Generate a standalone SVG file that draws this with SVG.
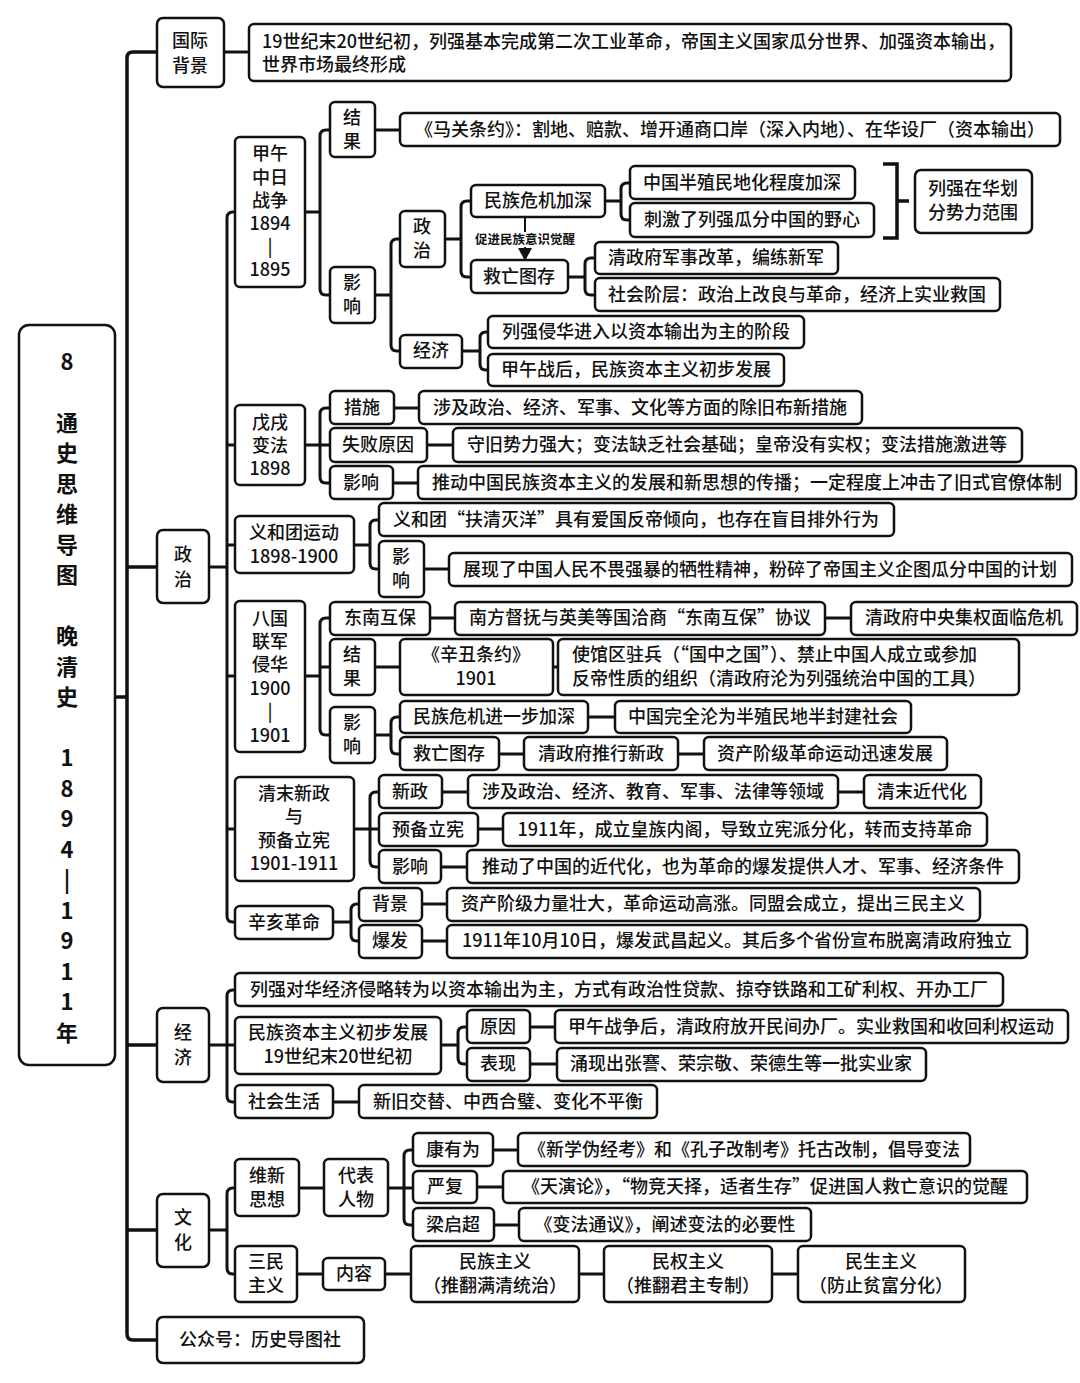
<svg xmlns="http://www.w3.org/2000/svg" width="1080" height="1383" viewBox="0 0 1080 1383">
<style>
.b{fill:#fff;stroke:#111;stroke-width:2.5}
.t{font-family:"Noto Sans CJK SC","Noto Sans",sans-serif;font-size:18px;font-weight:500;fill:#111;text-anchor:middle}
.l{text-anchor:start}
.r{font-family:"Noto Sans CJK SC","Noto Sans",sans-serif;font-size:22px;font-weight:bold;fill:#111;text-anchor:middle}
.c{fill:none;stroke:#111;stroke-width:3;stroke-linejoin:round}
</style>
<rect width="1080" height="1383" fill="#fff"/>
<g id="connectors" class="c">
<path d="M157 52H133Q127 52 127 58V1334Q127 1340 133 1340H157M127 567H157M127 1045H157M127 1230H157M115 697H127" stroke-width="3.5"/>
<path d="M224 52H249"/>
<path d="M235 212H233Q227 212 227 218V916Q227 922 233 922H235M227 445H235M227 545H235M227 676H235M227 829H235M209 567H227"/>
<path d="M330 130H326Q320 130 320 136V289Q320 295 326 295H330M305 212H320M375 130H400"/>
<path d="M400 239H397Q391 239 391 245V345Q391 351 397 351H400M375 295H391"/>
<path d="M471 201H467Q461 201 461 207V271Q461 277 467 277H471M445 239H461"/>
<path d="M630 183H627Q621 183 621 189V214Q621 220 627 220H630M605 201H621"/>
<path d="M883 164H897V238H883M897 201H909" stroke-width="3.5" stroke-linejoin="miter"/>
<path d="M595 258H591Q585 258 585 264V289Q585 295 591 295H595M568 277H585"/>
<path d="M488 332H486Q480 332 480 338V364Q480 370 486 370H488M462 351H480"/>
<path d="M330 408H326Q320 408 320 414V477Q320 483 326 483H330M305 445H330M394 408H419M427 445H453M393 483H418"/>
<path d="M379 520H376Q370 520 370 526V563Q370 569 376 569H379M354 545H370M424 569H449"/>
<path d="M330 618H326Q320 618 320 624V729Q320 735 326 735H330M305 676H320M320 667H330M430 618H455M825 618H851M375 667H400M553 667H558"/>
<path d="M400 717H397Q391 717 391 723V748Q391 754 397 754H400M375 735H391M588 717H615M499 754H524M678 754H704"/>
<path d="M379 792H376Q370 792 370 798V861Q370 867 376 867H379M354 829H379M442 792H468M838 792H864M478 829H503M441 867H467"/>
<path d="M359 904H357Q351 904 351 910V935Q351 941 357 941H359M333 922H351M422 904H447M422 941H447"/>
<path d="M235 990H233Q227 990 227 996V1096Q227 1102 233 1102H235M209 1045H235"/>
<path d="M467 1027H464Q458 1027 458 1033V1058Q458 1064 464 1064H467M441 1045H458M530 1027H555M530 1064H557M333 1102H359"/>
<path d="M235 1188H233Q227 1188 227 1194V1268Q227 1274 233 1274H235M209 1230H227M299 1188H324"/>
<path d="M413 1150H410Q404 1150 404 1156V1219Q404 1225 410 1225H413M388 1188H413M493 1150H518M477 1187H503M494 1225H519"/>
<path d="M297 1274H323M385 1274H411M579 1274H604M772 1274H798"/>
<path d="M525 217V250" stroke-width="2"/>
<polygon points="518,248 532,248 525,261" fill="#111" stroke="none"/>
<rect x="470" y="232" width="110" height="15" fill="#fff" stroke="none"/>
<text x="525" y="244" font-family="Noto Sans CJK SC,sans-serif" font-size="12.5" font-weight="bold" fill="#111" stroke="none" text-anchor="middle">促进民族意识觉醒</text>
</g>
<g id="root"><rect class="b" x="19" y="325" width="96" height="740" rx="10" stroke-width="3.5"/>
<text class="r"><tspan x="67" y="370">8</tspan><tspan x="67" y="431">通</tspan><tspan x="67" y="461">史</tspan><tspan x="67" y="492">思</tspan><tspan x="67" y="522">维</tspan><tspan x="67" y="553">导</tspan><tspan x="67" y="583">图</tspan><tspan x="67" y="644">晚</tspan><tspan x="67" y="675">清</tspan><tspan x="67" y="705">史</tspan><tspan x="67" y="766">1</tspan><tspan x="67" y="797">8</tspan><tspan x="67" y="827">9</tspan><tspan x="67" y="858">4</tspan><tspan x="67" y="888">|</tspan><tspan x="67" y="919">1</tspan><tspan x="67" y="949">9</tspan><tspan x="67" y="980">1</tspan><tspan x="67" y="1010">1</tspan><tspan x="67" y="1041">年</tspan></text></g>
<g id="n-gjbj"><rect class="b" x="157" y="18" width="67" height="69" rx="6"/><text class="t"><tspan x="190" y="47">国际</tspan><tspan x="190" y="72">背景</tspan></text></g>
<g id="n-intro"><rect class="b" x="249" y="24" width="762" height="57" rx="5"/><text class="t l"><tspan x="262" y="48">19世纪末20世纪初，列强基本完成第二次工业革命，帝国主义国家瓜分世界、加强资本输出，</tspan><tspan x="262" y="71">世界市场最终形成</tspan></text></g>
<g id="n-zz"><rect class="b" x="157" y="530" width="52" height="73" rx="6"/><text class="t"><tspan x="183" y="561">政</tspan><tspan x="183" y="586">治</tspan></text></g>
<g id="n-jj"><rect class="b" x="157" y="1008" width="52" height="74" rx="6"/><text class="t"><tspan x="183" y="1039">经</tspan><tspan x="183" y="1064">济</tspan></text></g>
<g id="n-wh"><rect class="b" x="157" y="1194" width="52" height="73" rx="6"/><text class="t"><tspan x="183" y="1224">文</tspan><tspan x="183" y="1249">化</tspan></text></g>
<g id="n-gzh"><rect class="b" x="157" y="1317" width="207" height="46" rx="6"/><text class="t" x="260" y="1346">公众号：历史导图社</text></g>
<g id="n-jw"><rect class="b" x="235" y="137" width="70" height="150" rx="5"/><text class="t"><tspan x="270" y="160">甲午</tspan><tspan x="270" y="184">中日</tspan><tspan x="270" y="207">战争</tspan><tspan x="270" y="230">1894</tspan><tspan x="270" y="253">|</tspan><tspan x="270" y="276">1895</tspan></text></g>
<g id="n-jw-jg"><rect class="b" x="330" y="102" width="45" height="55" rx="5"/><text class="t"><tspan x="352" y="124">结</tspan><tspan x="352" y="148">果</tspan></text></g>
<g id="n-mg"><rect class="b" x="400" y="113" width="660" height="33" rx="5"/><text class="t" x="730" y="136">《马关条约》：割地、赔款、增开通商口岸（深入内地）、在华设厂（资本输出）</text></g>
<g id="n-jw-yx"><rect class="b" x="330" y="267" width="45" height="56" rx="5"/><text class="t"><tspan x="352" y="289">影</tspan><tspan x="352" y="313">响</tspan></text></g>
<g id="n-jw-zz"><rect class="b" x="400" y="211" width="45" height="56" rx="5"/><text class="t"><tspan x="422" y="233">政</tspan><tspan x="422" y="257">治</tspan></text></g>
<g id="n-mzwj"><rect class="b" x="471" y="185" width="134" height="32" rx="5"/><text class="t" x="538" y="207">民族危机加深</text></g>
<g id="n-bzm"><rect class="b" x="630" y="166" width="225" height="33" rx="5"/><text class="t" x="742" y="189">中国半殖民地化程度加深</text></g>
<g id="n-cj"><rect class="b" x="630" y="203" width="244" height="34" rx="5"/><text class="t" x="752" y="226">刺激了列强瓜分中国的野心</text></g>
<g id="n-sl"><rect class="b" x="915" y="170" width="117" height="63" rx="6"/><text class="t"><tspan x="973" y="195">列强在华划</tspan><tspan x="973" y="219">分势力范围</tspan></text></g>
<g id="n-jwtc1"><rect class="b" x="471" y="260" width="97" height="33" rx="5"/><text class="t" x="519" y="283">救亡图存</text></g>
<g id="n-js"><rect class="b" x="595" y="242" width="243" height="32" rx="5"/><text class="t" x="716" y="264">清政府军事改革，编练新军</text></g>
<g id="n-shjc"><rect class="b" x="595" y="278" width="405" height="33" rx="5"/><text class="t" x="797" y="301">社会阶层：政治上改良与革命，经济上实业救国</text></g>
<g id="n-jw-jj"><rect class="b" x="400" y="335" width="62" height="33" rx="5"/><text class="t" x="431" y="357">经济</text></g>
<g id="n-zbsc"><rect class="b" x="488" y="316" width="316" height="32" rx="5"/><text class="t" x="646" y="338">列强侵华进入以资本输出为主的阶段</text></g>
<g id="n-jwzh"><rect class="b" x="488" y="354" width="296" height="32" rx="5"/><text class="t" x="636" y="376">甲午战后，民族资本主义初步发展</text></g>
<g id="n-wx"><rect class="b" x="235" y="405" width="70" height="80" rx="5"/><text class="t"><tspan x="270" y="429">戊戌</tspan><tspan x="270" y="452">变法</tspan><tspan x="270" y="475">1898</tspan></text></g>
<g id="n-cs"><rect class="b" x="330" y="391" width="64" height="33" rx="5"/><text class="t" x="362" y="414">措施</text></g>
<g id="n-cs2"><rect class="b" x="419" y="391" width="443" height="33" rx="5"/><text class="t" x="640" y="414">涉及政治、经济、军事、文化等方面的除旧布新措施</text></g>
<g id="n-sbyy"><rect class="b" x="330" y="428" width="97" height="34" rx="5"/><text class="t" x="378" y="451">失败原因</text></g>
<g id="n-sbyy2"><rect class="b" x="453" y="428" width="569" height="34" rx="5"/><text class="t" x="737" y="451">守旧势力强大；变法缺乏社会基础；皇帝没有实权；变法措施激进等</text></g>
<g id="n-wx-yx"><rect class="b" x="330" y="466" width="63" height="33" rx="5"/><text class="t" x="361" y="489">影响</text></g>
<g id="n-wx-yx2"><rect class="b" x="418" y="466" width="658" height="33" rx="5"/><text class="t" x="747" y="489">推动中国民族资本主义的发展和新思想的传播；一定程度上冲击了旧式官僚体制</text></g>
<g id="n-yht"><rect class="b" x="235" y="516" width="119" height="57" rx="5"/><text class="t"><tspan x="294" y="539">义和团运动</tspan><tspan x="294" y="563">1898-1900</tspan></text></g>
<g id="n-fqmy"><rect class="b" x="379" y="503" width="515" height="33" rx="5"/><text class="t" x="636" y="526">义和团“扶清灭洋”具有爱国反帝倾向，也存在盲目排外行为</text></g>
<g id="n-yht-yx"><rect class="b" x="379" y="541" width="45" height="56" rx="5"/><text class="t"><tspan x="401" y="563">影</tspan><tspan x="401" y="587">响</tspan></text></g>
<g id="n-yht-yx2"><rect class="b" x="449" y="553" width="623" height="33" rx="5"/><text class="t" x="760" y="576">展现了中国人民不畏强暴的牺牲精神，粉碎了帝国主义企图瓜分中国的计划</text></g>
<g id="n-bglj"><rect class="b" x="235" y="601" width="70" height="151" rx="5"/><text class="t"><tspan x="270" y="625">八国</tspan><tspan x="270" y="648">联军</tspan><tspan x="270" y="671">侵华</tspan><tspan x="270" y="695">1900</tspan><tspan x="270" y="718">|</tspan><tspan x="270" y="742">1901</tspan></text></g>
<g id="n-dnhb"><rect class="b" x="330" y="602" width="100" height="33" rx="5"/><text class="t" x="380" y="624">东南互保</text></g>
<g id="n-dnhb2"><rect class="b" x="455" y="602" width="370" height="33" rx="5"/><text class="t" x="640" y="624">南方督抚与英美等国洽商“东南互保”协议</text></g>
<g id="n-zyjq"><rect class="b" x="851" y="602" width="226" height="33" rx="5"/><text class="t" x="964" y="624">清政府中央集权面临危机</text></g>
<g id="n-bg-jg"><rect class="b" x="330" y="639" width="45" height="56" rx="5"/><text class="t"><tspan x="352" y="661">结</tspan><tspan x="352" y="685">果</tspan></text></g>
<g id="n-xc"><rect class="b" x="400" y="639" width="153" height="56" rx="5"/><text class="t"><tspan x="476" y="661">《辛丑条约》</tspan><tspan x="476" y="685">1901</tspan></text></g>
<g id="n-sgq"><rect class="b" x="558" y="639" width="461" height="56" rx="5"/><text class="t l"><tspan x="572" y="661">使馆区驻兵（“国中之国”）、禁止中国人成立或参加</tspan><tspan x="572" y="685">反帝性质的组织（清政府沦为列强统治中国的工具）</tspan></text></g>
<g id="n-bg-yx"><rect class="b" x="330" y="707" width="45" height="56" rx="5"/><text class="t"><tspan x="352" y="729">影</tspan><tspan x="352" y="753">响</tspan></text></g>
<g id="n-jybjs"><rect class="b" x="400" y="701" width="188" height="32" rx="5"/><text class="t" x="494" y="723">民族危机进一步加深</text></g>
<g id="n-bzmbfj"><rect class="b" x="615" y="701" width="296" height="32" rx="5"/><text class="t" x="763" y="723">中国完全沦为半殖民地半封建社会</text></g>
<g id="n-jwtc2"><rect class="b" x="400" y="737" width="99" height="33" rx="5"/><text class="t" x="449" y="760">救亡图存</text></g>
<g id="n-txxz"><rect class="b" x="524" y="737" width="154" height="33" rx="5"/><text class="t" x="601" y="760">清政府推行新政</text></g>
<g id="n-zcjj"><rect class="b" x="704" y="737" width="243" height="33" rx="5"/><text class="t" x="825" y="760">资产阶级革命运动迅速发展</text></g>
<g id="n-qmxz"><rect class="b" x="235" y="777" width="119" height="104" rx="5"/><text class="t"><tspan x="294" y="800">清末新政</tspan><tspan x="294" y="823">与</tspan><tspan x="294" y="847">预备立宪</tspan><tspan x="294" y="870">1901-1911</tspan></text></g>
<g id="n-xz"><rect class="b" x="379" y="775" width="63" height="33" rx="5"/><text class="t" x="410" y="798">新政</text></g>
<g id="n-xz2"><rect class="b" x="468" y="775" width="370" height="33" rx="5"/><text class="t" x="653" y="798">涉及政治、经济、教育、军事、法律等领域</text></g>
<g id="n-qmjdh"><rect class="b" x="864" y="775" width="117" height="33" rx="5"/><text class="t" x="922" y="798">清末近代化</text></g>
<g id="n-ybxx"><rect class="b" x="379" y="813" width="99" height="33" rx="5"/><text class="t" x="428" y="836">预备立宪</text></g>
<g id="n-ybxx2"><rect class="b" x="503" y="813" width="484" height="33" rx="5"/><text class="t" x="745" y="836">1911年，成立皇族内阁，导致立宪派分化，转而支持革命</text></g>
<g id="n-qm-yx"><rect class="b" x="379" y="850" width="62" height="33" rx="5"/><text class="t" x="410" y="873">影响</text></g>
<g id="n-qm-yx2"><rect class="b" x="467" y="850" width="552" height="33" rx="5"/><text class="t" x="743" y="873">推动了中国的近代化，也为革命的爆发提供人才、军事、经济条件</text></g>
<g id="n-xhgm"><rect class="b" x="235" y="906" width="98" height="33" rx="5"/><text class="t" x="284" y="929">辛亥革命</text></g>
<g id="n-xh-bj"><rect class="b" x="359" y="888" width="63" height="33" rx="5"/><text class="t" x="390" y="910">背景</text></g>
<g id="n-xh-bj2"><rect class="b" x="447" y="888" width="533" height="33" rx="5"/><text class="t" x="713" y="910">资产阶级力量壮大，革命运动高涨。同盟会成立，提出三民主义</text></g>
<g id="n-xh-bf"><rect class="b" x="359" y="925" width="63" height="33" rx="5"/><text class="t" x="390" y="947">爆发</text></g>
<g id="n-xh-bf2"><rect class="b" x="447" y="925" width="580" height="33" rx="5"/><text class="t" x="737" y="947">1911年10月10日，爆发武昌起义。其后多个省份宣布脱离清政府独立</text></g>
<g id="n-qlzb"><rect class="b" x="235" y="973" width="768" height="33" rx="5"/><text class="t" x="619" y="996">列强对华经济侵略转为以资本输出为主，方式有政治性贷款、掠夺铁路和工矿利权、开办工厂</text></g>
<g id="n-mzzb"><rect class="b" x="235" y="1017" width="206" height="57" rx="5"/><text class="t"><tspan x="338" y="1039">民族资本主义初步发展</tspan><tspan x="338" y="1063">19世纪末20世纪初</tspan></text></g>
<g id="n-yy"><rect class="b" x="467" y="1010" width="63" height="33" rx="5"/><text class="t" x="498" y="1033">原因</text></g>
<g id="n-yy2"><rect class="b" x="555" y="1010" width="513" height="33" rx="5"/><text class="t" x="811" y="1033">甲午战争后，清政府放开民间办厂。实业救国和收回利权运动</text></g>
<g id="n-bx"><rect class="b" x="467" y="1048" width="63" height="33" rx="5"/><text class="t" x="498" y="1070">表现</text></g>
<g id="n-bx2"><rect class="b" x="557" y="1048" width="369" height="33" rx="5"/><text class="t" x="741" y="1070">涌现出张謇、荣宗敬、荣德生等一批实业家</text></g>
<g id="n-shsh"><rect class="b" x="235" y="1085" width="98" height="33" rx="5"/><text class="t" x="284" y="1108">社会生活</text></g>
<g id="n-shsh2"><rect class="b" x="359" y="1085" width="298" height="33" rx="5"/><text class="t" x="508" y="1108">新旧交替、中西合璧、变化不平衡</text></g>
<g id="n-wxsx"><rect class="b" x="235" y="1159" width="64" height="57" rx="5"/><text class="t"><tspan x="267" y="1182">维新</tspan><tspan x="267" y="1206">思想</tspan></text></g>
<g id="n-dbrw"><rect class="b" x="324" y="1159" width="64" height="57" rx="5"/><text class="t"><tspan x="356" y="1182">代表</tspan><tspan x="356" y="1206">人物</tspan></text></g>
<g id="n-kyw"><rect class="b" x="413" y="1133" width="80" height="33" rx="5"/><text class="t" x="453" y="1156">康有为</text></g>
<g id="n-kyw2"><rect class="b" x="518" y="1133" width="452" height="33" rx="5"/><text class="t" x="744" y="1156">《新学伪经考》和《孔子改制考》托古改制，倡导变法</text></g>
<g id="n-yf"><rect class="b" x="413" y="1171" width="64" height="32" rx="5"/><text class="t" x="445" y="1193">严复</text></g>
<g id="n-yf2"><rect class="b" x="503" y="1171" width="524" height="32" rx="5"/><text class="t" x="765" y="1193">《天演论》，“物竞天择，适者生存”促进国人救亡意识的觉醒</text></g>
<g id="n-lqc"><rect class="b" x="413" y="1208" width="81" height="33" rx="5"/><text class="t" x="453" y="1231">梁启超</text></g>
<g id="n-lqc2"><rect class="b" x="519" y="1208" width="292" height="33" rx="5"/><text class="t" x="665" y="1231">《变法通议》，阐述变法的必要性</text></g>
<g id="n-smzy"><rect class="b" x="235" y="1246" width="62" height="56" rx="5"/><text class="t"><tspan x="266" y="1268">三民</tspan><tspan x="266" y="1292">主义</tspan></text></g>
<g id="n-nr"><rect class="b" x="323" y="1258" width="62" height="32" rx="5"/><text class="t" x="354" y="1280">内容</text></g>
<g id="n-mz"><rect class="b" x="411" y="1246" width="168" height="56" rx="5"/><text class="t"><tspan x="495" y="1268">民族主义</tspan><tspan x="495" y="1292">（推翻满清统治）</tspan></text></g>
<g id="n-mq"><rect class="b" x="604" y="1246" width="168" height="56" rx="5"/><text class="t"><tspan x="688" y="1268">民权主义</tspan><tspan x="688" y="1292">（推翻君主专制）</tspan></text></g>
<g id="n-ms"><rect class="b" x="798" y="1246" width="167" height="56" rx="5"/><text class="t"><tspan x="881" y="1268">民生主义</tspan><tspan x="881" y="1292">（防止贫富分化）</tspan></text></g>
</svg>
